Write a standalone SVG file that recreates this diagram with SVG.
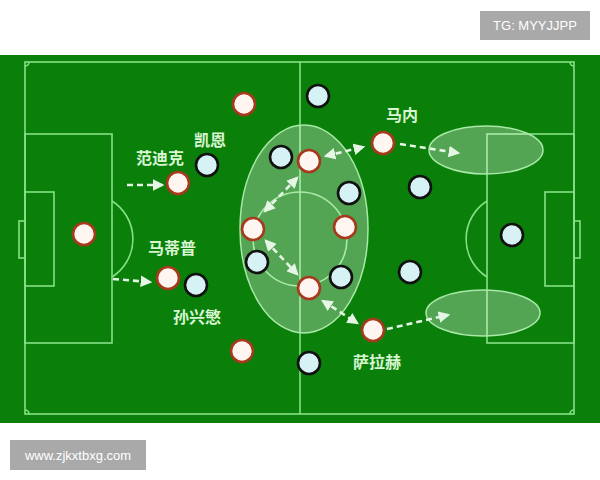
<svg xmlns="http://www.w3.org/2000/svg" width="600" height="480" viewBox="0 0 600 480">
<defs>
<style>
.ln{fill:none;stroke:#86e086;stroke-width:1.6}
.red{fill:#fff6f2;stroke:#a63a1c;stroke-width:2.6}
.blue{fill:#d6f2f5;stroke:#111;stroke-width:2.6}
.lbl{font-family:"Noto Sans CJK SC","Noto Sans",sans-serif;font-size:16px;font-weight:bold;fill:#d8f6d2;text-anchor:middle}
.arr{fill:none;stroke:#e6f6e6;stroke-width:2.6;stroke-dasharray:6 4}
.zone{fill:#ffffff;fill-opacity:0.3;stroke:#a8e8a8;stroke-width:1.5}
.wm{fill:#a9a9a9}
.wmt{font-family:"Liberation Sans",Arial,sans-serif;font-size:13px;fill:#fff}
</style>
<marker id="ah" viewBox="0 0 10 10" refX="8" refY="5" markerWidth="4.5" markerHeight="4.5" orient="auto-start-reverse" markerUnits="strokeWidth">
<path d="M0,0 L10,5 L0,10 z" fill="#e6f6e6"/>
</marker>
</defs>
<rect width="600" height="480" fill="#fff"/>
<g id="watermark-top"><rect class="wm" x="480" y="11" width="110" height="29"/><text class="wmt" x="535" y="30" text-anchor="middle">TG: MYYJJPP</text></g>
<g id="pitch">
<rect x="0" y="55" width="600" height="368" fill="#0a7f0a"/>
<rect class="ln" x="25" y="62" width="549" height="352"/>
<line class="ln" x1="300" y1="62" x2="300" y2="414"/>
<circle class="ln" cx="300" cy="239" r="47"/>
<rect class="ln" x="25" y="134" width="87" height="209"/>
<rect class="ln" x="25" y="192" width="29" height="94"/>
<rect class="ln" x="19" y="221" width="6" height="37"/>
<path class="ln" d="M112,201 A45,45 0 0 1 112,277"/>
<rect class="ln" x="487" y="134" width="87" height="209"/>
<rect class="ln" x="545" y="192" width="29" height="94"/>
<rect class="ln" x="574" y="221" width="6" height="37"/>
<path class="ln" d="M487,201 A45,45 0 0 0 487,277"/>
<path class="ln" d="M25,66 A4,4 0 0 0 29,62 M570,62 A4,4 0 0 0 574,66 M25,410 A4,4 0 0 1 29,414 M570,414 A4,4 0 0 1 574,410"/>
</g>
<g id="zones">
<ellipse class="zone" cx="304" cy="229" rx="64" ry="104"/>
<ellipse class="zone" cx="486" cy="150" rx="57" ry="24"/>
<ellipse class="zone" cx="483" cy="313" rx="57" ry="23"/>
</g>
<g id="connectors">
<line class="arr" x1="127" y1="185" x2="162" y2="185" marker-end="url(#ah)"/>
<line class="arr" x1="113" y1="279" x2="150" y2="282" marker-end="url(#ah)"/>
<line class="arr" x1="297" y1="178" x2="265" y2="211" marker-start="url(#ah)" marker-end="url(#ah)"/>
<line class="arr" x1="266" y1="241" x2="297" y2="274" marker-start="url(#ah)" marker-end="url(#ah)"/>
<line class="arr" x1="326" y1="156" x2="363" y2="147" marker-start="url(#ah)" marker-end="url(#ah)"/>
<line class="arr" x1="323" y1="301" x2="357" y2="323" marker-start="url(#ah)" marker-end="url(#ah)"/>
<line class="arr" x1="400" y1="144" x2="458" y2="153" marker-end="url(#ah)"/>
<line class="arr" x1="387" y1="329" x2="448" y2="315" marker-end="url(#ah)"/>
</g>
<g id="red-team">
<circle id="r-gk" class="red" cx="84" cy="234" r="11"/>
<circle id="r1" class="red" cx="244" cy="104" r="11"/>
<circle id="r-vandijk" class="red" cx="178" cy="183" r="11"/>
<circle id="r-matip" class="red" cx="168" cy="278" r="11"/>
<circle id="r2" class="red" cx="242" cy="351" r="11"/>
<circle id="r3" class="red" cx="309" cy="161" r="11"/>
<circle id="r4" class="red" cx="253" cy="229" r="11"/>
<circle id="r5" class="red" cx="345" cy="227" r="11"/>
<circle id="r6" class="red" cx="309" cy="288" r="11"/>
<circle id="r-mane" class="red" cx="383" cy="143" r="11"/>
<circle id="r-salah" class="red" cx="373" cy="330" r="11"/>
</g>
<g id="blue-team">
<circle id="b1" class="blue" cx="318" cy="96" r="11"/>
<circle id="b-kane" class="blue" cx="207" cy="165" r="11"/>
<circle id="b2" class="blue" cx="281" cy="157" r="11"/>
<circle id="b3" class="blue" cx="349" cy="193" r="11"/>
<circle id="b4" class="blue" cx="420" cy="187" r="11"/>
<circle id="b5" class="blue" cx="257" cy="262" r="11"/>
<circle id="b6" class="blue" cx="341" cy="277" r="11"/>
<circle id="b-son" class="blue" cx="196" cy="285" r="11"/>
<circle id="b7" class="blue" cx="410" cy="272" r="11"/>
<circle id="b8" class="blue" cx="512" cy="235" r="11"/>
<circle id="b9" class="blue" cx="309" cy="363" r="11"/>
</g>
<g id="labels">
<text class="lbl" x="210" y="146">凯恩</text>
<text class="lbl" x="160" y="164">范迪克</text>
<text class="lbl" x="172" y="254">马蒂普</text>
<text class="lbl" x="197" y="323">孙兴慜</text>
<text class="lbl" x="402" y="121">马内</text>
<text class="lbl" x="377" y="368">萨拉赫</text>
</g>
<g id="watermark-bottom"><rect class="wm" x="10" y="440" width="136" height="30"/><text class="wmt" x="78" y="460" text-anchor="middle">www.zjkxtbxg.com</text></g>
</svg>
